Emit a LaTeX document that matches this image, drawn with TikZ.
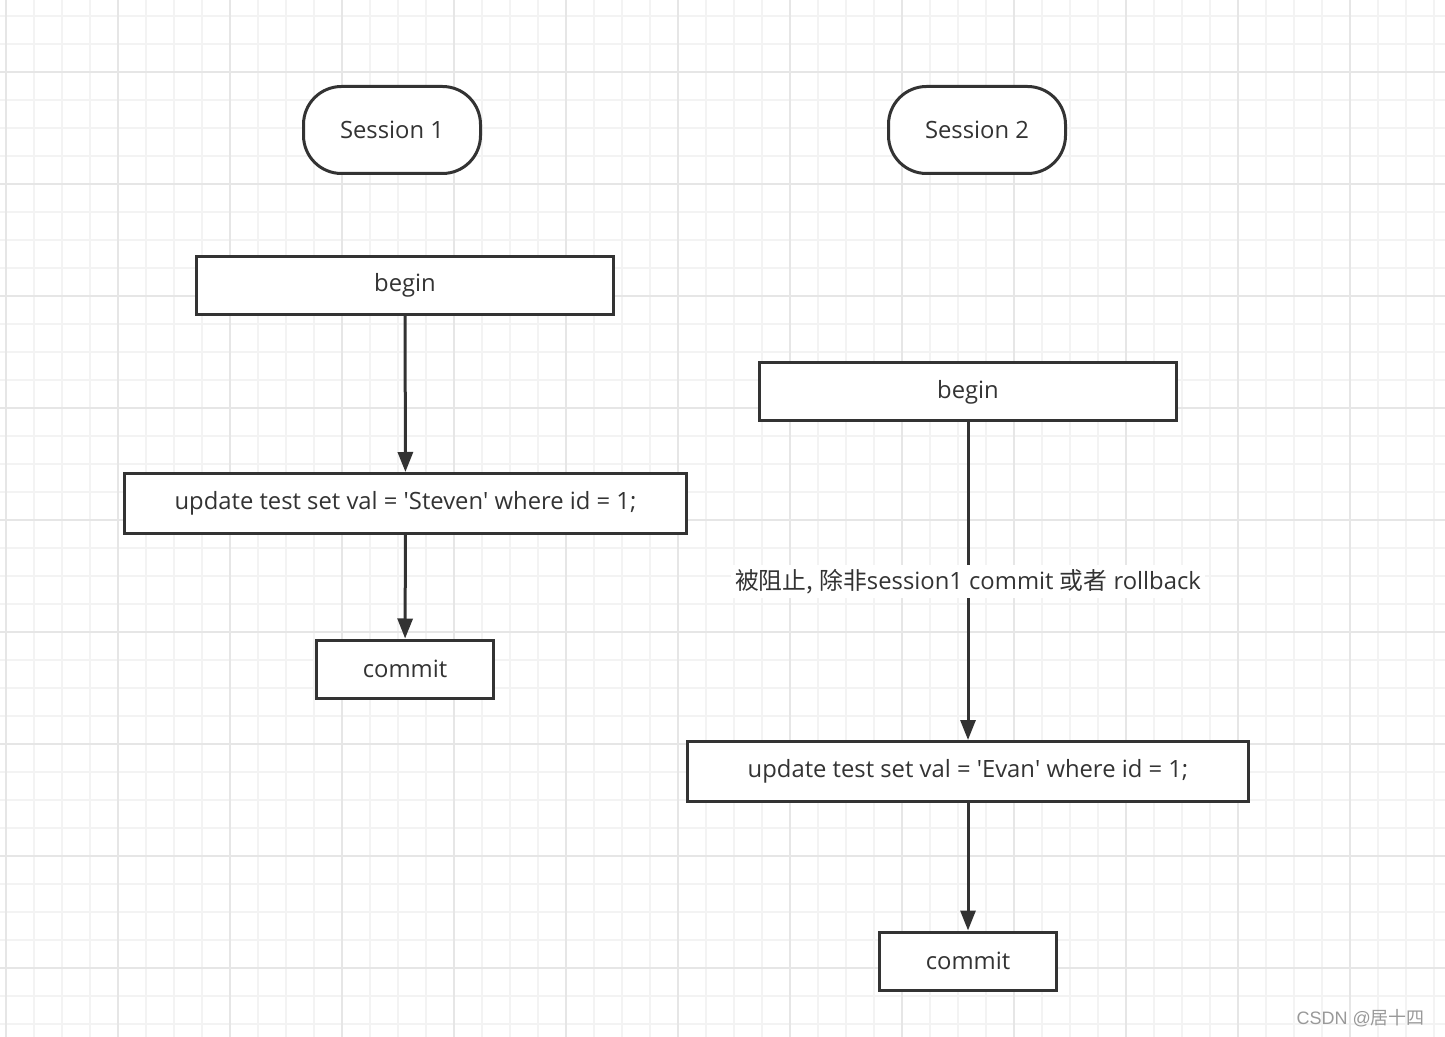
\documentclass[tikz,border=0pt]{standalone}
\usepackage{fontspec}
\setmainfont{Open Sans}
\newfontfamily\cjk{Noto Sans CJK SC}
\newfontfamily\wmfont{Liberation Sans}
\usetikzlibrary{arrows.meta,positioning}

\definecolor{ink}{HTML}{333333}
\definecolor{gridminor}{HTML}{F3F3F3}
\definecolor{gridmajor}{HTML}{E6E6E6}

\begin{document}
\begin{tikzpicture}[
  x=0.5pt, y=-0.5pt,
  font=\fontsize{11.9}{14}\selectfont, text=ink,
  box/.style={draw=ink, line width=1.5pt, fill=white, inner sep=0pt,
              minimum height=29pt, align=center},
  term/.style={box, rounded corners=19pt, minimum width=88.5pt, minimum height=43.5pt},
  ar/.style={-{Triangle[length=10pt, width=7.5pt]}, draw=ink, line width=1.5pt},
]
\useasboundingbox (0,0) rectangle (1445,1037);
\fill[white] (0,0) rectangle (1445,1037);

% background grid
\foreach \gx in {6,34,...,1445} \draw[gridminor, line width=1pt] (\gx,0) -- (\gx,1037);
\foreach \gy in {16,44,...,1037} \draw[gridminor, line width=1pt] (0,\gy) -- (1445,\gy);
\foreach \gx in {6,118,...,1445} \draw[gridmajor, line width=1pt] (\gx,0) -- (\gx,1037);
\foreach \gy in {72,184,...,1037} \draw[gridmajor, line width=1pt] (0,\gy) -- (1445,\gy);

% session 1
\node[term] (s1) at (392,130) {Session 1};
\node[box, minimum width=208.5pt] (b1) at (405,285.5) {begin};
\node[box, minimum width=281pt, minimum height=30pt] (u1) at (405.5,503.5)
  {update test set val = \textquotesingle Steven\textquotesingle\ where id = 1;};
\node[box, minimum width=88.5pt] (c1) at (405,669) {commit};

% session 2
\node[term] (s2) at (977,130) {Session 2};
\node[box, minimum width=208.5pt] (b2) at (968,392) {begin};
\node[box, minimum width=280.5pt, minimum height=30pt] (u2) at (968,771.5)
  {update test set val = \textquotesingle Evan\textquotesingle\ where id = 1;};
\node[box, minimum width=88.5pt] (c2) at (968,961) {commit};

\draw[ar] (b1) -- (u1);
\draw[ar] (u1) -- (c1);
\draw[ar] (b2) -- node[fill=white, inner sep=2pt] {{\cjk 被阻止,} {\cjk 除非}session1 commit {\cjk 或者} rollback} (u2);
\draw[ar] (u2) -- (c2);

% watermark
\node[text=black!40, font=\wmfont\fontsize{9}{11}\selectfont, anchor=east] (wm) at (1432,1018)
  {CSDN @{\cjk 居十四}};
\end{tikzpicture}
\end{document}
